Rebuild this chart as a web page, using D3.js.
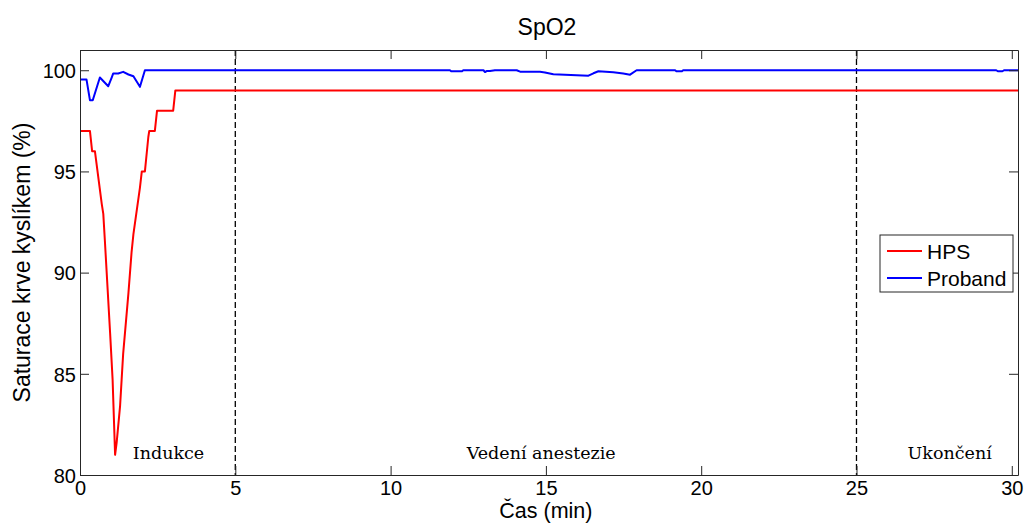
<!DOCTYPE html>
<html>
<head>
<meta charset="utf-8">
<script src="https://cdn.jsdelivr.net/npm/d3@7"></script>
<style>
  body { margin: 0; background: #fff; }
  svg { display: block; }
</style>
</head>
<body>
<div id="chart"></div>
<script>
// HPS series (min, %)
const hpsTime = [0, 0.32, 0.39, 0.48, 0.70, 0.75, 0.80, 0.97, 1.05, 1.13, 1.18, 1.29, 1.34, 1.39, 1.56, 1.66, 1.72, 1.93, 1.99, 2.09, 2.20, 2.23, 2.41, 2.48, 3.00, 3.07, 30.2];
const hpsValue = [97, 97, 96, 96, 93.4, 92.9, 91.6, 87.0, 84.7, 81.0, 81.6, 83.4, 84.7, 86.0, 89.0, 91.0, 91.9, 94.2, 95, 95, 96.7, 97, 97, 98, 98, 99, 99];

// Proband series (min, %)
const probandTime = [0, 0.21, 0.32, 0.41, 0.64, 0.91, 1.02, 1.07, 1.23, 1.39, 1.56, 1.72, 1.93, 2.09,
  11.91, 11.95, 12.30, 12.34, 12.99, 13.04, 13.09, 13.20, 13.36, 14.06, 14.17, 14.81, 14.97, 15.24,
  15.99, 16.37, 16.53, 16.69, 17.17, 17.49, 17.71, 17.92, 19.16, 19.20, 19.38, 19.42, 29.50, 29.55, 29.70, 29.75, 30.2];
const probandValue = [99.54, 99.54, 98.52, 98.52, 99.64, 99.21, 99.64, 99.84, 99.84, 99.92, 99.79, 99.7, 99.18, 100,
  100, 99.95, 99.95, 100, 100, 99.91, 99.96, 99.96, 100, 100, 99.93, 99.92, 99.89, 99.8,
  99.75, 99.73, 99.85, 99.95, 99.9, 99.84, 99.78, 100, 100, 99.95, 99.95, 100, 100, 99.95, 99.95, 100, 100];

const xTicks = [0, 5, 10, 15, 20, 25, 30];
const yTicks = [80, 85, 90, 95, 100];
const phaseBounds = [5, 25];
const phaseLabels = ["Indukce", "Vedení anestezie", "Ukončení"];
const phaseCenters = [2.85, 14.85, 28.0];
const seriesNames = ["HPS", "Proband"];
const seriesColors = ["#ff0000", "#0000ff"];

const width = 1025, height = 524;
const margin = { top: 50, right: 7, bottom: 49, left: 80 };
const innerW = width - margin.left - margin.right;
const innerH = height - margin.top - margin.bottom;

const svg = d3.select("#chart").append("svg")
  .attr("width", width)
  .attr("height", height)
  .style("font-family", "'Liberation Sans', Arial, sans-serif");

const g = svg.append("g").attr("transform", `translate(${margin.left},${margin.top})`);

const x = d3.scaleLinear().domain([0, 30.2]).range([0, innerW]);
const y = d3.scaleLinear().domain([80, 101]).range([innerH, 0]);

// phase separators
g.selectAll(".phase")
  .data(phaseBounds)
  .join("line")
  .attr("x1", d => x(d)).attr("x2", d => x(d))
  .attr("y1", 0).attr("y2", innerH)
  .attr("stroke", "#000")
  .attr("stroke-width", 1.3)
  .attr("stroke-dasharray", "6,3");

const line = d3.line()
  .x(d => x(d[0]))
  .y(d => y(d[1]));

const series = [
  d3.zip(hpsTime, hpsValue),
  d3.zip(probandTime, probandValue)
];

g.selectAll(".series")
  .data(series)
  .join("path")
  .attr("fill", "none")
  .attr("stroke", (d, i) => seriesColors[i])
  .attr("stroke-width", 2)
  .attr("stroke-linejoin", "round")
  .attr("d", line);

// axes, matlab-style box with inward ticks
const tick = 9;
const styleAxis = sel => {
  sel.selectAll("path, line").attr("stroke", "#262626");
  sel.selectAll("text").attr("fill", "#000").style("font-size", "20px");
};

g.append("g")
  .attr("transform", `translate(0,${innerH})`)
  .call(d3.axisBottom(x).tickValues(xTicks).tickSizeInner(-tick).tickSizeOuter(0).tickPadding(7))
  .call(styleAxis)
  .call(a => a.selectAll("text").attr("y", 5).attr("dy", "0.75em"));

g.append("g")
  .call(d3.axisLeft(y).tickValues(yTicks).tickSizeInner(-tick).tickSizeOuter(0).tickPadding(4))
  .call(styleAxis)
  .call(a => a.selectAll("text").attr("dy", "0.36em"));

g.append("g")
  .call(d3.axisTop(x).tickValues(xTicks).tickSizeInner(-tick).tickSizeOuter(0).tickFormat(""))
  .call(styleAxis);

g.append("g")
  .attr("transform", `translate(${innerW},0)`)
  .call(d3.axisRight(y).tickValues(yTicks).tickSizeInner(-tick).tickSizeOuter(0).tickFormat(""))
  .call(styleAxis);

// phase labels
g.selectAll(".plabel")
  .data(phaseLabels)
  .join("text")
  .attr("x", (d, i) => x(phaseCenters[i]))
  .attr("y", 409)
  .attr("text-anchor", "middle")
  .style("font-family", "'Palatino Linotype', 'Book Antiqua', Palatino, 'DejaVu Serif', serif")
  .style("font-size", "17.5px")
  .attr("fill", "#000")
  .text(d => d);

// title and axis labels
svg.append("text")
  .attr("x", 547).attr("y", 35)
  .attr("text-anchor", "middle")
  .style("font-size", "23px")
  .text("SpO2");

svg.append("text")
  .attr("x", margin.left + x(15)).attr("y", 518)
  .attr("text-anchor", "middle")
  .style("font-size", "21.5px")
  .text("Čas (min)");

svg.append("text")
  .attr("transform", `translate(30,${margin.top + y(90.5)}) rotate(-90)`)
  .attr("text-anchor", "middle")
  .style("font-size", "23px")
  .text("Saturace krve kyslíkem (%)");

// legend
const legend = svg.append("g").attr("transform", "translate(880,235)");
legend.append("rect")
  .attr("width", 133).attr("height", 57)
  .attr("fill", "#fff")
  .attr("stroke", "#262626");

const rows = legend.selectAll(".row")
  .data(seriesNames)
  .join("g")
  .attr("transform", (d, i) => `translate(0,${16 + i * 27})`);
rows.append("line")
  .attr("x1", 7).attr("x2", 42)
  .attr("stroke", (d, i) => seriesColors[i])
  .attr("stroke-width", 2);
rows.append("text")
  .attr("x", 47).attr("dy", "0.36em")
  .style("font-size", "21px")
  .text(d => d);
</script>
</body>
</html>
